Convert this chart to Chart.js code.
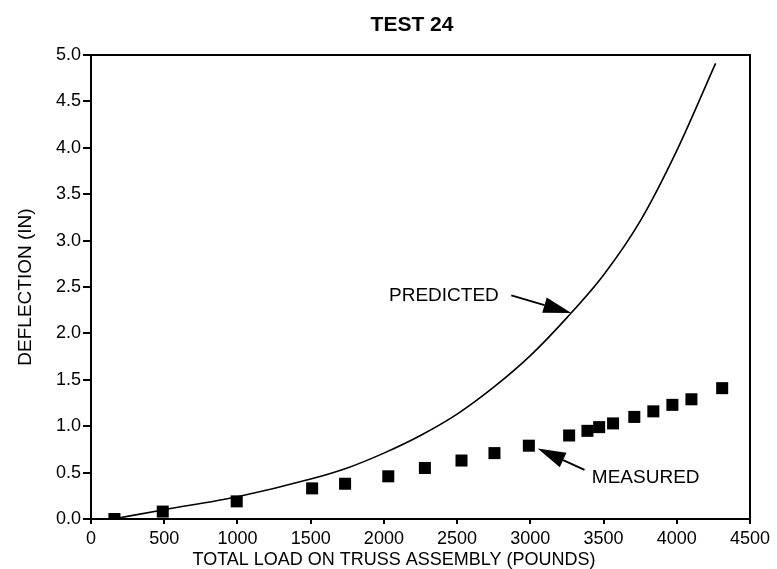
<!DOCTYPE html>
<html>
<head>
<meta charset="utf-8">
<script src="https://cdn.jsdelivr.net/npm/chart.js@4"></script>
<style>
  html, body { margin: 0; padding: 0; background: #fff; }
  #wrap { width: 777px; height: 569px; }
</style>
</head>
<body>
<div id="wrap"><canvas id="deflectionChart"></canvas></div>
<script>
// Test 24 data
const measuredLoad = [160, 490, 995, 1510, 1735, 2030, 2280, 2530, 2755, 2990, 3265, 3390, 3470, 3565, 3710, 3840, 3970, 4100, 4310];
const measuredDefl = [0.0, 0.08, 0.19, 0.33, 0.38, 0.46, 0.55, 0.63, 0.71, 0.79, 0.9, 0.95, 0.99, 1.03, 1.1, 1.16, 1.23, 1.29, 1.41];

const predictedLoad = [150, 500, 1000, 1500, 1750, 2000, 2250, 2500, 2750, 3000, 3250, 3500, 3750, 4000, 4265];
const predictedDefl = [0.0, 0.1, 0.24, 0.43, 0.55, 0.71, 0.9, 1.13, 1.42, 1.76, 2.17, 2.63, 3.21, 3.97, 4.91];

const xTicks = [0, 500, 1000, 1500, 2000, 2500, 3000, 3500, 4000, 4500];
const yTicks = [0, 0.5, 1, 1.5, 2, 2.5, 3, 3.5, 4, 4.5, 5];

const chartTitle = "TEST 24";
const xTitle = "TOTAL LOAD ON TRUSS ASSEMBLY (POUNDS)";
const yTitle = "DEFLECTION (IN)";

// callouts: label, text anchor (data units), arrow start, arrow tip
const callouts = [
  { text: "PREDICTED", at: [2035, 2.41], from: [2870, 2.41], to: [3280, 2.22] },
  { text: "MEASURED", at: [3420, 0.44], from: [3370, 0.53], to: [3050, 0.76] }
];

const FONT = "'Liberation Sans', Arial, sans-serif";

const toXY = (xs, ys) => xs.map((x, i) => ({ x: x, y: ys[i] }));

// frame round the plot, titles (the originals sit off-centre) and the arrow labels
const extras = {
  id: "extras",
  afterDraw(chart) {
    const c = chart.ctx;
    const a = chart.chartArea;
    const sx = chart.scales.x, sy = chart.scales.y;
    c.save();
    c.strokeStyle = "#000";
    c.lineWidth = 2;
    c.strokeRect(a.left, a.top, a.right - a.left, a.bottom - a.top);

    c.fillStyle = "#000";
    c.textAlign = "center";
    c.textBaseline = "middle";
    c.font = "bold 21px " + FONT;
    c.fillText(chartTitle, 412, 25);
    c.font = "18px " + FONT;
    c.fillText(xTitle, 394, 560);

    c.textAlign = "left";
    c.font = "19px " + FONT;
    callouts.forEach(co => {
      c.fillText(co.text, sx.getPixelForValue(co.at[0]), sy.getPixelForValue(co.at[1]));
      const x0 = sx.getPixelForValue(co.from[0]), y0 = sy.getPixelForValue(co.from[1]);
      const x1 = sx.getPixelForValue(co.to[0]), y1 = sy.getPixelForValue(co.to[1]);
      const ang = Math.atan2(y1 - y0, x1 - x0);
      const head = 28, half = 8;
      const bx = x1 - head * Math.cos(ang), by = y1 - head * Math.sin(ang);
      c.lineWidth = 2;
      c.beginPath();
      c.moveTo(x0, y0);
      c.lineTo(bx, by);
      c.stroke();
      c.beginPath();
      c.moveTo(x1, y1);
      c.lineTo(bx + half * Math.sin(ang), by - half * Math.cos(ang));
      c.lineTo(bx - half * Math.sin(ang), by + half * Math.cos(ang));
      c.closePath();
      c.fill();
    });
    c.restore();
  }
};

Chart.defaults.font.family = FONT;
Chart.defaults.color = "#000";

new Chart(document.getElementById("deflectionChart"), {
  type: "scatter",
  data: {
    datasets: [
      {
        label: "PREDICTED",
        data: toXY(predictedLoad, predictedDefl),
        showLine: true,
        borderColor: "#000",
        borderWidth: 1.6,
        pointRadius: 0,
        tension: 0.4,
        cubicInterpolationMode: "monotone"
      },
      {
        label: "MEASURED",
        data: toXY(measuredLoad, measuredDefl),
        pointStyle: "rect",
        pointRadius: 8.5,
        backgroundColor: "#000",
        borderColor: "#000",
        borderWidth: 0
      }
    ]
  },
  options: {
    responsive: true,
    maintainAspectRatio: false,
    animation: false,
    layout: { padding: { left: 0, right: 27, top: 55, bottom: 0 } },
    plugins: {
      legend: { display: false },
      tooltip: { enabled: false },
      title: { display: false }
    },
    scales: {
      x: {
        type: "linear",
        min: 0,
        max: 4500,
        afterBuildTicks: s => { s.ticks = xTicks.map(v => ({ value: v })); },
        afterFit: s => { s.height = 50; },
        ticks: { font: { size: 18 }, padding: 4, maxRotation: 0, callback: v => String(v) },
        grid: { drawOnChartArea: false, color: "#000", lineWidth: 2, tickLength: 5 },
        border: { color: "#000", width: 2 }
      },
      y: {
        min: 0,
        max: 5,
        afterBuildTicks: s => { s.ticks = yTicks.map(v => ({ value: v })); },
        afterFit: s => { s.width = 91; },
        ticks: { font: { size: 18 }, padding: 2, callback: v => v.toFixed(1) },
        grid: { drawOnChartArea: false, color: "#000", lineWidth: 2, tickLength: 8 },
        border: { color: "#000", width: 2 },
        title: { display: true, text: yTitle, font: { size: 19 }, padding: { top: 14, bottom: 0 } }
      }
    }
  },
  plugins: [extras]
});
</script>
</body>
</html>
